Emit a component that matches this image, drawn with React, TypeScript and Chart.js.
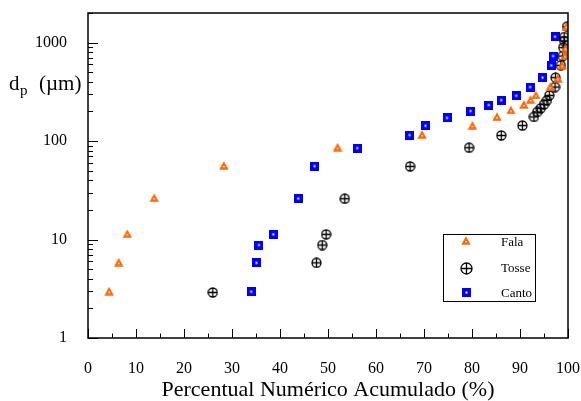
import React, { useEffect, useRef } from "react";
import { Chart, registerables } from "chart.js";

Chart.register(...registerables);

const falaX = [4.4, 6.4, 8.2, 13.8, 28.3, 52.0, 69.6, 80.1, 85.2, 88.1, 90.8, 92.2, 93.3, 96.3, 97.9, 98.8, 99.4, 99.5, 99.7];
const falaY = [3.0, 5.9, 11.5, 26.6, 56.6, 86.9, 117, 145, 177, 207, 236, 265, 294, 357, 437, 592, 743, 881, 1475];

const tosseX = [26.0, 47.6, 48.8, 49.6, 53.5, 67.1, 79.4, 86.1, 90.5, 92.9, 93.6, 94.3, 95.0, 95.6, 96.1, 97.3, 97.4, 98.5, 98.9, 99.0, 99.2, 99.2, 99.8];
const tosseY = [2.9, 5.8, 8.8, 11.3, 26.0, 55.3, 85.7, 114, 144, 176, 198, 215, 236, 259, 291, 354, 441, 588, 731, 889, 1038, 1140, 1454];

const cantoX = [34.0, 35.1, 35.6, 38.6, 43.8, 47.2, 56.1, 67.0, 70.3, 74.8, 79.7, 83.5, 86.1, 89.2, 92.1, 94.7, 96.5, 96.9, 97.3];
const cantoY = [2.95, 5.8, 8.8, 11.3, 26.1, 55.7, 84.9, 115, 143, 172, 202, 232, 261, 289, 354, 441, 588, 731, 1150];

const seriesNames = ["Fala", "Tosse", "Canto"];
const xTickValues = [0, 10, 20, 30, 40, 50, 60, 70, 80, 90, 100];
const yTickLabels = [1, 10, 100, 1000];

const ORANGE = "#ff6600";
const BLUE = "#0000ff";
const FONT = "'Liberation Serif', 'Times New Roman', serif";

function makeTriangle() {
  const c = document.createElement("canvas");
  c.width = 10; c.height = 9;
  const g = c.getContext("2d")!;
  g.fillStyle = ORANGE;
  g.beginPath();
  g.moveTo(5, 0.3); g.lineTo(9.7, 8.7); g.lineTo(0.3, 8.7); g.closePath();
  g.fill();
  g.fillStyle = "#ffffff";
  g.fillRect(4.25, 5, 1.5, 1.5);
  return c;
}
function makeCross(r: number) {
  const size = Math.ceil(r * 2 + 2);
  const c = document.createElement("canvas");
  c.width = size; c.height = size;
  const g = c.getContext("2d")!;
  const m = size / 2;
  g.strokeStyle = "#000";
  g.lineWidth = 1.3;
  g.beginPath(); g.arc(m, m, r, 0, Math.PI * 2); g.stroke();
  g.beginPath();
  g.moveTo(m - r, m); g.lineTo(m + r, m);
  g.moveTo(m, m - r); g.lineTo(m, m + r);
  g.stroke();
  return c;
}
function makeSquare(s: number) {
  const c = document.createElement("canvas");
  c.width = s; c.height = s;
  const g = c.getContext("2d")!;
  g.fillStyle = BLUE;
  g.fillRect(0, 0, s, s);
  g.fillStyle = "#ffffff";
  g.fillRect(s / 2 - 1, s / 2 - 1, 2, 2);
  return c;
}

export default function App() {
  const ref = useRef<HTMLCanvasElement>(null);
  useEffect(() => {
    const tri = makeTriangle();
    const crs = makeCross(4.5);
    const sq = makeSquare(9);
    const legendMarkers = [tri, makeCross(5.5), makeSquare(9)];

    const decoPlugin = {
      id: "deco",
      afterDatasetsDraw(chart: any) {
        const ctx = chart.ctx;
        const a = chart.chartArea;
        const xs = chart.scales.x;
        const ys = chart.scales.y;
        ctx.save();
        ctx.strokeStyle = "#000";
        ctx.lineWidth = 1;
        for (let v = 0; v <= 100; v += 5) {
          const px = Math.round(xs.getPixelForValue(v)) + 0.5;
          const len = v % 10 === 0 ? 9 : 4.5;
          ctx.beginPath(); ctx.moveTo(px, a.bottom); ctx.lineTo(px, a.bottom - len); ctx.stroke();
        }
        for (let d = 1; d <= 1000; d *= 10) {
          for (let m = 1; m <= 9; m++) {
            const v = d * m;
            if (v > 2000) break;
            const py = Math.round(ys.getPixelForValue(v)) + 0.5;
            const len = m === 1 ? 10 : 5;
            ctx.beginPath(); ctx.moveTo(a.left, py); ctx.lineTo(a.left + len, py); ctx.stroke();
          }
        }
        ctx.lineWidth = 1.5;
        ctx.strokeRect(a.left, a.top, a.right - a.left, a.bottom - a.top);
        ctx.fillStyle = "#000";
        ctx.textBaseline = "alphabetic";
        ctx.textAlign = "left";
        ctx.font = `21px ${FONT}`;
        ctx.fillText("d", 9, 90);
        const dw = ctx.measureText("d").width;
        ctx.font = `15px ${FONT}`;
        ctx.fillText("p", 9 + dw + 0.5, 95);
        ctx.font = `21px ${FONT}`;
        ctx.fillText("(µm)", 39, 90);
        ctx.lineWidth = 1;
        ctx.strokeRect(443.5, 234.5, 92, 67);
        const rowsMarkerY = [240, 268, 292];
        const rowsTextY = [243, 268.5, 293.5];
        ctx.font = `13px ${FONT}`;
        ctx.textBaseline = "middle";
        seriesNames.forEach((n, i) => {
          const m = legendMarkers[i];
          ctx.drawImage(m, Math.round(466 - m.width / 2), Math.round(rowsMarkerY[i] - m.height / 2));
          ctx.fillText(n, 501, rowsTextY[i]);
        });
        ctx.restore();
      },
    };

    const mk = (xs: number[], ys: number[]) => xs.map((x, i) => ({ x, y: ys[i] }));
    const zeroPad = (s: any) => { s.paddingTop = 0; s.paddingBottom = 0; s.paddingLeft = 0; s.paddingRight = 0; };

    const chart = new Chart(ref.current!, {
      type: "scatter",
      data: {
        datasets: [
          { label: seriesNames[0], data: mk(falaX, falaY), pointStyle: tri as any, pointRadius: 5, order: 0 },
          { label: seriesNames[1], data: mk(tosseX, tosseY), pointStyle: crs as any, pointRadius: 5, order: 1 },
          { label: seriesNames[2], data: mk(cantoX, cantoY), pointStyle: sq as any, pointRadius: 5, order: 2 },
        ],
      },
      options: {
        responsive: false,
        animation: false,
        devicePixelRatio: 1,
        layout: { padding: { top: 13, right: 13, left: 0, bottom: 0 } },
        plugins: { legend: { display: false }, tooltip: { enabled: false } },
        scales: {
          x: {
            type: "linear",
            min: 0,
            max: 100,
            afterFit: (s: any) => { s.height = 63; zeroPad(s); },
            afterBuildTicks: (s: any) => { s.ticks = xTickValues.map((v) => ({ value: v })); },
            grid: { display: false, drawTicks: false },
            border: { display: false },
            ticks: { color: "#000", font: { family: FONT, size: 16 }, padding: 21, autoSkip: false, maxRotation: 0 },
            title: {
              display: true,
              text: "Percentual Numérico Acumulado (%)",
              color: "#000",
              font: { family: FONT, size: 22, lineHeight: 1 },
              padding: { top: 0, bottom: 0 },
            },
          },
          y: {
            type: "logarithmic",
            min: 1,
            max: 2000,
            afterFit: (s: any) => { s.width = 88; zeroPad(s); },
            afterBuildTicks: (s: any) => { s.ticks = yTickLabels.map((v) => ({ value: v })); },
            grid: { display: false, drawTicks: false },
            border: { display: false },
            ticks: {
              color: "#000",
              font: { family: FONT, size: 16 },
              padding: 21,
              autoSkip: false,
              callback: (v: any) => String(v),
            },
          },
        },
      },
      plugins: [decoPlugin],
    });
    return () => chart.destroy();
  }, []);
  return (
    <div style={{ position: "absolute", left: 0, top: 0, width: 581, height: 401, background: "#fff" }}>
      <canvas ref={ref} width={581} height={401} style={{ display: "block" }} />
    </div>
  );
}
